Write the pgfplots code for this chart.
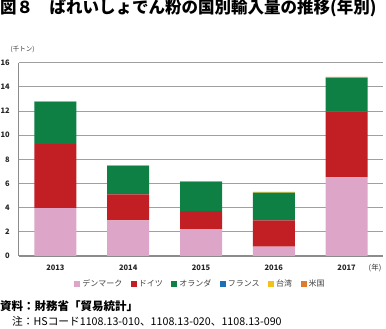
\documentclass[border=0pt]{standalone}
\usepackage{fontspec}
\setmainfont{Noto Sans CJK JP}
\usepackage{pgfplots}
\pgfplotsset{compat=1.18}
\definecolor{cDK}{HTML}{DDA6C8}
\definecolor{cDE}{HTML}{C21F24}
\definecolor{cNL}{HTML}{0E8044}
\definecolor{cFR}{HTML}{1B6FB5}
\definecolor{cTW}{HTML}{F2C21A}
\definecolor{cUS}{HTML}{E07B2B}
\definecolor{gridc}{HTML}{A0A0A0}
\definecolor{axisc}{HTML}{8C8C8C}
\begin{document}
\begin{tikzpicture}[x=1pt,y=1pt]
\path[use as bounding box] (0,0) rectangle (386,329);
\begin{axis}[
  at={(19pt,73pt)}, anchor=south west, scale only axis,
  width=364pt, height=193.3pt,
  ybar stacked, bar width=42pt,
  xmin=-0.5, xmax=4.5, ymin=0, ymax=16,
  ytick={0,2,...,16}, xtick={0,1,2,3,4},
  xticklabels={2013,2014,2015,2016,2017},
  ymajorgrids, grid style={color=gridc, line width=1pt},
  axis x line*=bottom, axis y line*=left,
  axis line style={color=axisc, line width=1pt},
  x axis line style={line width=1.3pt},
  major tick length=0pt,
  /pgf/number format/assume math mode=true,
  tick label style={font=\fontsize{7.5}{9}\selectfont\bfseries, text=black!85},
  yticklabel style={anchor=east, inner sep=0pt, xshift=-9pt},
  xticklabel style={anchor=center, inner sep=0pt, yshift=-12pt},
  legend columns=6,
  legend style={draw=none, fill=none, at={(0.4986,-0.146)}, anchor=center,
    font=\fontsize{8}{9}\selectfont, text=black!75, inner sep=0pt,
    /tikz/every even column/.append style={column sep=6.5pt}},
  legend image code/.code={\fill[#1] (0pt,-3pt) rectangle (6pt,3pt);},
  every axis plot/.append style={draw=none},
]
\addplot[fill=cDK] coordinates {(0,3.97) (1,2.95) (2,2.23) (3,0.77) (4,6.50)};
\addplot[fill=cDE] coordinates {(0,5.28) (1,2.15) (2,1.49) (3,2.18) (4,5.45)};
\addplot[fill=cNL] coordinates {(0,3.50) (1,2.37) (2,2.43) (3,2.29) (4,2.81)};
\addplot[fill=cFR] coordinates {(0,0) (1,0) (2,0) (3,0) (4,0)};
\addplot[fill=cTW] coordinates {(0,0.02) (1,0.02) (2,0.02) (3,0.04) (4,0.02)};
\addplot[fill=cUS] coordinates {(0,0.04) (1,0.03) (2,0.02) (3,0.03) (4,0.04)};
\legend{デンマーク,ドイツ,オランダ,フランス,台湾,米国}
\end{axis}
\node[anchor=west, inner sep=0pt, font=\fontsize{16.5}{18}\selectfont\bfseries] at (0,320.5) {図８\hspace{1em}ばれいしょでん粉の国別輸入量の推移(年別)};
\node[inner sep=0pt, font=\fontsize{6.5}{8}\selectfont, text=black!80] at (22.5,280) {(千トン)};
\node[inner sep=0pt, font=\fontsize{7.5}{9}\selectfont, text=black!80] at (375,61) {(年)};
\node[anchor=west, inner sep=0pt, font=\fontsize{11.5}{13}\selectfont\bfseries] at (0,23.3) {資料：財務省「貿易統計」};
\node[anchor=west, inner sep=0pt, font=\fontsize{10.7}{12}\selectfont] at (12,7.3) {注：HSコード1108.13-010、1108.13-020、1108.13-090};
\end{tikzpicture}
\end{document}
